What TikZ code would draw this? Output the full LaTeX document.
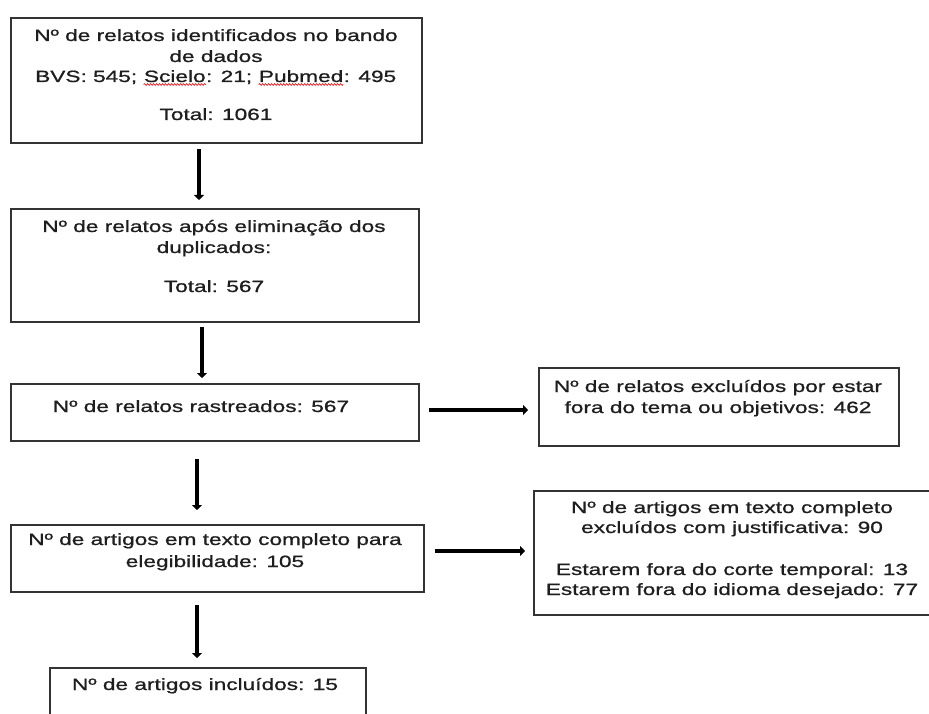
\documentclass[tikz,border=0pt]{standalone}
\usepackage{fontspec}
\setmainfont[FakeStretch=1.39,FakeBold=0.9]{Liberation Sans}
\usetikzlibrary{arrows.meta,decorations.pathmorphing}
\definecolor{boxgray}{HTML}{333333}
\definecolor{txtcol}{HTML}{1E1E1E}
\definecolor{spellred}{HTML}{E02020}
\tikzset{
  box/.style={draw=boxgray, line width=1.8pt, inner sep=0pt, anchor=north west},
  txt/.style={anchor=base, inner sep=0pt, font=\fontsize{16.3}{21}\selectfont, text=txtcol},
  txtw/.style={txt, anchor=base west},
  wavy/.style={draw=spellred, line width=0.7pt, decorate, decoration={snake, segment length=3pt, amplitude=0.9pt}},
  arr/.style={draw=black, line width=4pt, -{Triangle[length=5pt,width=10pt]}},
}
\begin{document}
\begin{tikzpicture}[x=1pt,y=-1pt]
\useasboundingbox (0,0) rectangle (929,714);
\fill[white] (0,0) rectangle (929,714);
\clip (0,0) rectangle (929,714);

% boxes
\node[box, minimum width=411, minimum height=125] (B1) at (10,17) {};
\node[box, minimum width=408, minimum height=113] (B2) at (10,208) {};
\node[box, minimum width=408, minimum height=57]  (B3) at (10,383) {};
\node[box, minimum width=413, minimum height=67]  (B4) at (10,524) {};
\node[box, minimum width=316, minimum height=70]  (B5) at (49,667) {};
\node[box, minimum width=360, minimum height=78]  (B6) at (538,367) {};
\node[box, minimum width=401, minimum height=124] (B7) at (533,490) {};

% texts
\node[txt] (t1a) at (216,41) {Nº de relatos identificados no bando};
\node[txt] (t1b) at (216,62) {de dados};
\node[txtw] (t1c1) at (35,82) {BVS: 545;\kern\fontdimen2\font};
\node[txtw] (s1) at (t1c1.base east) {Scielo};
\node[txtw] (t1c2) at (s1.base east) {: 21;\kern\fontdimen2\font};
\node[txtw] (s2) at (t1c2.base east) {Pubmed};
\node[txtw] (t1c3) at (s2.base east) {: 495};
\draw[wavy] ([yshift=-2.5pt]s1.base west) -- ([yshift=-2.5pt]s1.base east);
\draw[wavy] ([yshift=-2.5pt]s2.base west) -- ([yshift=-2.5pt]s2.base east);
\node[txt] (t1d) at (216,120) {Total: 1061};

\node[txt] (t2a) at (214,232) {Nº de relatos após eliminação dos};
\node[txt] (t2b) at (214,253) {duplicados:};
\node[txt] (t2c) at (214,292) {Total: 567};

\node[txt] (t3a) at (201,412) {Nº de relatos rastreados: 567};

\node[txt] (t4a) at (215,545) {Nº de artigos em texto completo para};
\node[txt] (t4b) at (215,567) {elegibilidade: 105};

\node[txt] (t5a) at (205,690) {Nº de artigos incluídos: 15};

\node[txt] (t6a) at (718,392) {Nº de relatos excluídos por estar};
\node[txt] (t6b) at (718,413) {fora do tema ou objetivos: 462};

\node[txt] (t7a) at (732,513) {Nº de artigos em texto completo};
\node[txt] (t7b) at (732,533) {excluídos com justificativa: 90};
\node[txt] (t7c) at (732,575) {Estarem fora do corte temporal: 13};
\node[txt] (t7d) at (732,595) {Estarem fora do idioma desejado: 77};

% arrow positions
\coordinate (x1) at (199,0);
\coordinate (x2) at (202,0);
\coordinate (x3) at (197,0);
\coordinate (y1) at (0,410);
\coordinate (y2) at (0,551);

\draw[arr, shorten <=5pt, shorten >=8pt] (B1.south -| x1) -- (B2.north -| x1);
\draw[arr, shorten <=4pt, shorten >=5pt] (B2.south -| x2) -- (B3.north -| x2);
\draw[arr, shorten <=17pt, shorten >=14pt] (B3.south -| x3) -- (B4.north -| x3);
\draw[arr, shorten <=12pt, shorten >=9pt] (B4.south -| x3) -- (B5.north -| x3);
\draw[arr, shorten <=9pt, shorten >=10pt] (B3.east |- y1) -- (B6.west |- y1);
\draw[arr, shorten <=10pt, shorten >=8pt] (B4.east |- y2) -- (B7.west |- y2);
\end{tikzpicture}
\end{document}
